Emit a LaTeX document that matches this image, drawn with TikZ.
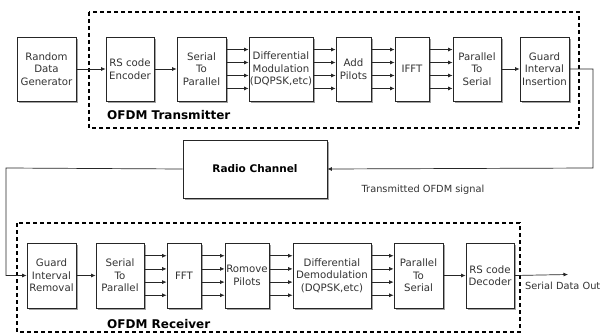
\documentclass[tikz,border=0pt]{standalone}
\usepackage{fontspec}
\setmainfont{DejaVu Sans}
\usetikzlibrary{arrows.meta,calc,shadows}
\begin{document}
\begin{tikzpicture}[x=1pt,y=-1pt,
  blk/.style={draw=black!85, line width=0.8pt, fill=white, inner sep=0pt, align=center,
    text=black!80, font=\fontsize{10.2}{12.6}\selectfont,
    drop shadow={shadow xshift=1.6pt, shadow yshift=-1.6pt, fill=black!45, opacity=0.8}},
  toprow/.style={blk, minimum height=64pt},
  botrow/.style={blk, minimum height=65pt},
  arr/.style={draw=black!85, line width=0.7pt, -{Latex[length=4.5pt,width=4pt]}},
  grp/.style={draw=black, line width=1.1pt, dash pattern=on 4pt off 3pt},
  ttl/.style={font=\fontsize{12}{14}\selectfont\bfseries, text=black, inner sep=0pt, anchor=west},
  lbl/.style={font=\fontsize{9.8}{12}\selectfont, text=black!80, inner sep=0pt}
]
\useasboundingbox (0,0) rectangle (600,334);
\fill[white] (0,0) rectangle (600,334);

% group boxes
\draw[grp] (89,12) rectangle (579,128);
\draw[grp] (17,223) rectangle (520,332);
\node[ttl] (ttx) at (107,115) {OFDM Transmitter};
\node[ttl] (trx) at (107,324) {OFDM Receiver};

% top row
\node[toprow, minimum width=59pt] (rdg) at (46.5,69) {Random\\Data\\Generator};
\node[toprow, minimum width=48pt] (rse) at (130,69) {RS code\\Encoder};
\node[toprow, minimum width=49pt] (stp) at (201.5,69) {Serial\\To\\Parallel};
\node[toprow, minimum width=64pt] (dmod) at (281,69) {Differential\\Modulation\\(DQPSK,etc)};
\node[toprow, minimum width=35pt] (ap) at (353.5,69) {Add\\Pilots};
\node[toprow, minimum width=34pt] (ifft) at (412,69) {IFFT};
\node[toprow, minimum width=48pt] (pts) at (477,69) {Parallel\\To\\Serial};
\node[toprow, minimum width=49pt] (gii) at (544.5,69) {Guard\\Interval\\Insertion};

% radio channel
\node[blk, minimum width=144pt, minimum height=58pt, font=\fontsize{10.5}{12}\selectfont\bfseries, text=black] (rc) at (255,169) {Radio Channel};

% bottom row
\node[botrow, minimum width=49pt] (gir) at (51.5,275.5) {Guard\\Interval\\Removal};
\node[botrow, minimum width=48pt] (stp2) at (120,275.5) {Serial\\To\\Parallel};
\node[botrow, minimum width=34pt] (fft) at (184,275.5) {FFT};
\node[botrow, minimum width=44pt] (rp) at (247,275.5) {Romove\\Pilots};
\node[botrow, minimum width=78pt] (ddm) at (332,275.5) {Differential\\Demodulation\\(DQPSK,etc)};
\node[botrow, minimum width=49pt] (pts2) at (418.5,275.5) {Parallel\\To\\Serial};
\node[botrow, minimum width=48pt] (rsd) at (490,275.5) {RS code\\Decoder};

% single arrows
\draw[arr] (rdg.east) -- (rse.west);
\draw[arr] (rse.east) -- (stp.west);
\draw[arr] (pts.east) -- (gii.west);
\draw[arr] (gir.east) -- (stp2.west);
\draw[arr] (pts2.east) -- (rsd.west);

% parallel arrows
\foreach \a/\b in {stp/dmod, dmod/ap, ap/ifft, ifft/pts, stp2/fft, fft/rp, rp/ddm, ddm/pts2}{
  \foreach \f in {0.2,0.4,0.6,0.8}{
    \draw[arr] ($(\a.north east)!\f!(\a.south east)$) -- ($(\b.north west)!\f!(\b.south west)$);
  }
}

% channel path
\coordinate (k1) at (593,168);
\coordinate (k2) at (6,168);
\draw[arr] (gii.east) -| (k1) -- (rc.east);
\draw[arr] (rc.west) -- (k2) |- (gir.west);
\node[lbl] (tos) at (423,190) {Transmitted OFDM signal};

% output
\coordinate (out) at (568,274.5);
\draw[arr] (rsd.east) -- (out);
\node[lbl, anchor=west] (sdo) at (525,286) {Serial Data Out};
\end{tikzpicture}
\end{document}
